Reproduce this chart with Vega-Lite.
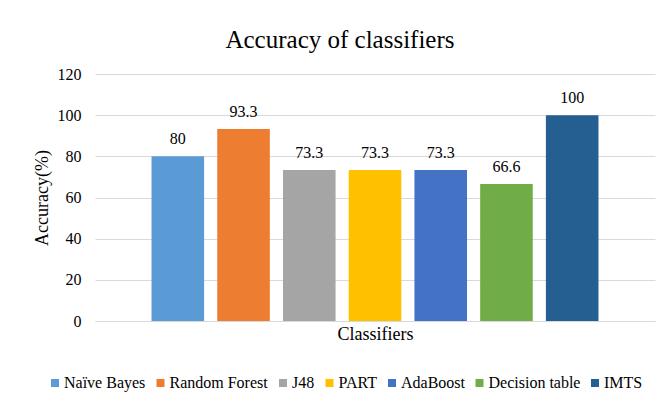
{
  "$schema": "https://vega.github.io/schema/vega-lite/v6.json",
  "width": 560,
  "height": 247,
  "autosize": "none",
  "padding": {"left": 95, "top": 74, "right": 14, "bottom": 88},
  "background": "white",
  "title": {
    "text": "Accuracy  of classifiers",
    "font": "Liberation Serif",
    "fontSize": 25,
    "fontWeight": "normal",
    "color": "#000000",
    "anchor": "middle",
    "dx": -35,
    "offset": 13
  },
  "data": {
    "values": [
      {"classifier": "Naïve Bayes", "accuracy": 80, "label": "80"},
      {"classifier": "Random Forest", "accuracy": 93.3, "label": "93.3"},
      {"classifier": "J48", "accuracy": 73.3, "label": "73.3"},
      {"classifier": "PART", "accuracy": 73.3, "label": "73.3"},
      {"classifier": "AdaBoost", "accuracy": 73.3, "label": "73.3"},
      {"classifier": "Decision table", "accuracy": 66.6, "label": "66.6"},
      {"classifier": "IMTS", "accuracy": 100, "label": "100"}
    ]
  },
  "encoding": {
    "x": {
      "field": "classifier",
      "type": "nominal",
      "sort": null,
      "title": "Classifiers",
      "scale": {"paddingInner": 0.2, "paddingOuter": 0.86},
      "axis": {
        "labels": false,
        "ticks": false,
        "domainColor": "#d9d9d9",
        "domainWidth": 1,
        "titleFont": "Liberation Serif",
        "titleFontSize": 18,
        "titleFontWeight": "normal",
        "titleColor": "#000000",
        "titlePadding": 4
      }
    },
    "y": {
      "field": "accuracy",
      "type": "quantitative",
      "title": "Accuracy(%)",
      "scale": {"domain": [0, 120]},
      "axis": {
        "values": [0, 20, 40, 60, 80, 100, 120],
        "domain": false,
        "ticks": false,
        "gridColor": "#d9d9d9",
        "gridWidth": 1,
        "labelFont": "Liberation Serif",
        "labelFontSize": 16,
        "labelColor": "#000000",
        "labelPadding": 14,
        "titleFont": "Liberation Serif",
        "titleFontSize": 18,
        "titleFontWeight": "normal",
        "titleColor": "#000000",
        "titlePadding": 6
      }
    }
  },
  "layer": [
    {
      "mark": {"type": "bar"},
      "encoding": {
        "color": {
          "field": "classifier",
          "type": "nominal",
          "sort": null,
          "scale": {
            "domain": ["Naïve Bayes", "Random Forest", "J48", "PART", "AdaBoost", "Decision table", "IMTS"],
            "range": ["#5B9BD5", "#ED7D31", "#A5A5A5", "#FFC000", "#4472C4", "#70AD47", "#255E91"]
          },
          "legend": {
            "title": null,
            "orient": "none",
            "direction": "horizontal",
            "legendX": -48,
            "legendY": 301,
            "symbolType": "square",
            "symbolSize": 64,
            "symbolStrokeWidth": 0,
            "labelFont": "Liberation Serif",
            "labelFontSize": 16,
            "labelColor": "#000000",
            "labelOffset": 1,
            "columnPadding": 6.5,
            "labelLimit": 200
          }
        }
      }
    },
    {
      "mark": {
        "type": "text",
        "baseline": "alphabetic",
        "dy": -12,
        "font": "Liberation Serif",
        "fontSize": 16,
        "color": "#000000"
      },
      "encoding": {
        "text": {"field": "label", "type": "nominal"}
      }
    }
  ],
  "config": {
    "view": {"stroke": null}
  }
}
